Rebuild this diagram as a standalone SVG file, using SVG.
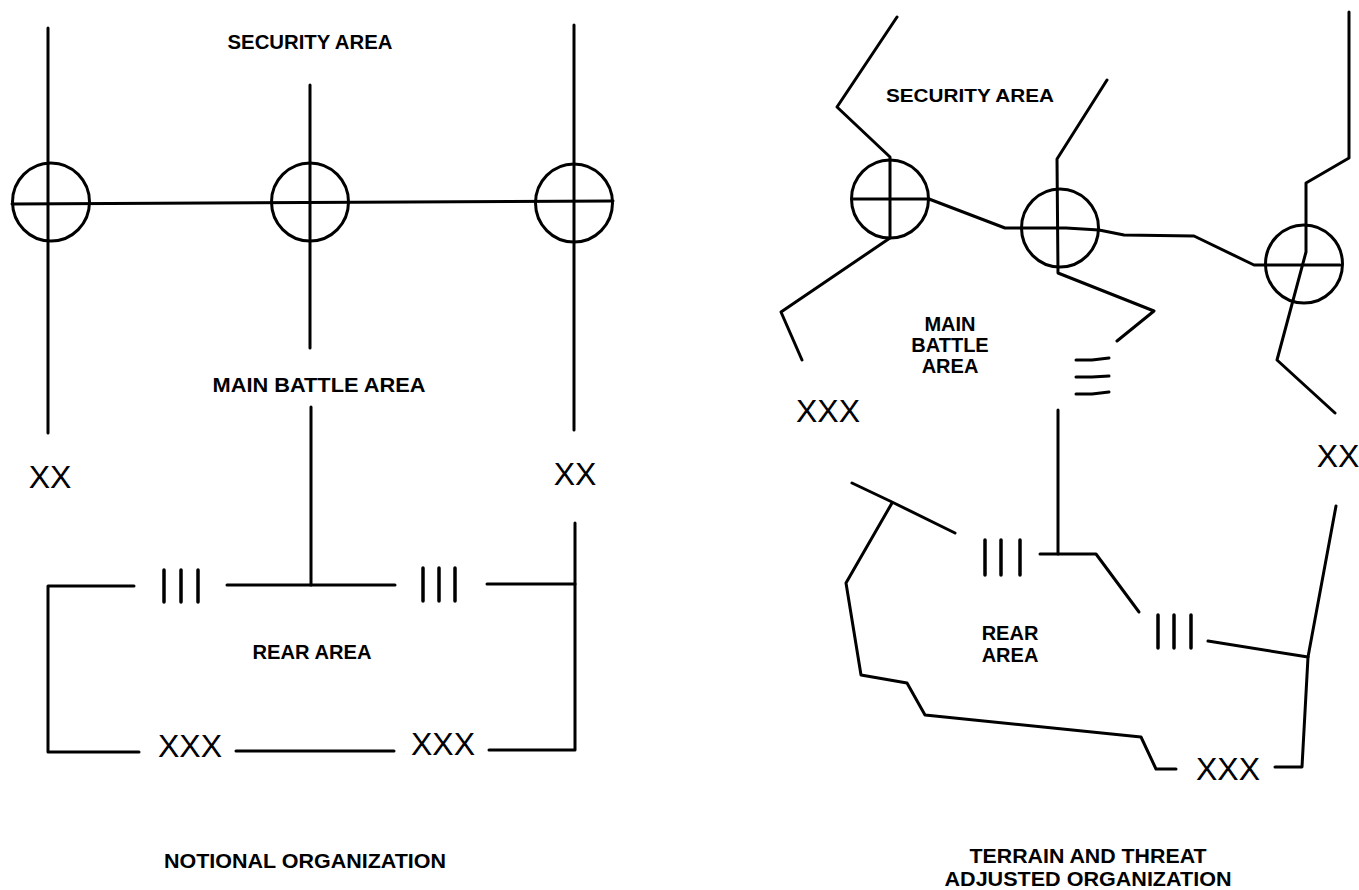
<svg xmlns="http://www.w3.org/2000/svg" width="1359" height="890" viewBox="0 0 1359 890">
<style>
.ln{fill:none;stroke:#000;stroke-width:3;stroke-linecap:round;stroke-linejoin:round}
.cp{fill:none;stroke:#000;stroke-width:3}
.bar{stroke:#000;stroke-width:3.5;stroke-linecap:round}
.lbl{font-family:"Liberation Sans",Arial,sans-serif;font-weight:bold;text-anchor:middle;fill:#000}
.sym{font-family:"Liberation Sans",Arial,sans-serif;font-weight:normal;text-anchor:middle;fill:#000;font-size:32px}
</style>
<rect width="1359" height="890" fill="#fff"/>

<!-- LEFT: NOTIONAL ORGANIZATION -->
<g id="connectors-left">
  <path class="ln" d="M48,28 V433"/>
  <path class="ln" d="M310,85 V348"/>
  <path class="ln" d="M574,25 V430"/>
  <path class="ln" d="M12,204 L613,201"/>
  <path class="ln" d="M311,407 V585"/>
  <path class="ln" d="M134,586 H48 V752 H139"/>
  <path class="ln" d="M227,585 H395"/>
  <path class="ln" d="M487,584 H575 V750 H489"/>
  <path class="ln" d="M236,751 H394"/>
  <path class="ln" d="M575,523 V584"/>
</g>
<g id="cp-left-1"><ellipse class="cp" cx="51" cy="202" rx="38.5" ry="39"/></g>
<g id="cp-left-2"><ellipse class="cp" cx="310" cy="202" rx="38.5" ry="39"/></g>
<g id="cp-left-3"><ellipse class="cp" cx="574" cy="203" rx="38.5" ry="39"/></g>
<g id="lbl-security-left"><text class="lbl" x="310" y="49" font-size="20" textLength="165" lengthAdjust="spacingAndGlyphs">SECURITY AREA</text></g>
<g id="lbl-mba-left"><text class="lbl" x="319" y="392" font-size="21" textLength="213" lengthAdjust="spacingAndGlyphs">MAIN BATTLE AREA</text></g>
<g id="lbl-rear-left"><text class="lbl" x="312" y="659" font-size="20" textLength="119" lengthAdjust="spacingAndGlyphs">REAR AREA</text></g>
<g id="title-left"><text class="lbl" x="305" y="868" font-size="21" textLength="282" lengthAdjust="spacingAndGlyphs">NOTIONAL ORGANIZATION</text></g>
<g id="div-left-1"><text class="sym" x="50" y="488">XX</text></g>
<g id="div-left-2"><text class="sym" x="575" y="485">XX</text></g>
<g id="bde-left-1"><line class="bar" x1="164" y1="570" x2="164" y2="602"/><line class="bar" x1="181" y1="570" x2="181" y2="602"/><line class="bar" x1="198" y1="570" x2="198" y2="602"/></g>
<g id="bde-left-2"><line class="bar" x1="423" y1="568" x2="423" y2="601"/><line class="bar" x1="439" y1="568" x2="439" y2="601"/><line class="bar" x1="455" y1="568" x2="455" y2="601"/></g>
<g id="corps-left-1"><text class="sym" x="190" y="757">XXX</text></g>
<g id="corps-left-2"><text class="sym" x="443" y="755">XXX</text></g>

<!-- RIGHT: TERRAIN AND THREAT ADJUSTED ORGANIZATION -->
<g id="connectors-right">
  <path class="ln" d="M897,17 L837,107 L890,157 V238 L781,312 L802,360"/>
  <path class="ln" d="M852,199 H929 L1005,228 H1066 L1099,230 L1124,235 L1194,236 L1254,265 H1340"/>
  <path class="ln" d="M1107,80 L1057,159 L1058,273 L1154,311 L1117,341"/>
  <path class="ln" d="M1349,12 V158 L1306,183 V252 L1277,360 L1335,413"/>
  <path class="ln" d="M1058,410 V554"/>
  <path class="ln" d="M852,483 L892,502 L955,533"/>
  <path class="ln" d="M892,503 L846,583 L861,675 L907,683 L925,715 L1141,737 L1156,769 H1176"/>
  <path class="ln" d="M1040,554 H1096 L1139,612"/>
  <path class="ln" d="M1208,641 L1308,657"/>
  <path class="ln" d="M1336,506 L1308,657 L1302,767 H1275"/>
  <path class="ln" d="M1076,360 H1092 L1109,358" stroke-width="3"/>
  <path class="ln" d="M1076,377 H1092 L1109,376" stroke-width="4.5"/>
  <path class="ln" d="M1076,394 H1092 L1109,392" stroke-width="3"/>
</g>
<g id="cp-right-1"><ellipse class="cp" cx="890" cy="199" rx="38.5" ry="39"/></g>
<g id="cp-right-2"><ellipse class="cp" cx="1060" cy="228" rx="38.5" ry="39"/></g>
<g id="cp-right-3"><ellipse class="cp" cx="1304" cy="264" rx="38.5" ry="39"/></g>
<g id="lbl-security-right"><text class="lbl" x="970" y="102" font-size="19" textLength="168" lengthAdjust="spacingAndGlyphs">SECURITY AREA</text></g>
<g id="lbl-mba-right"><text class="lbl" x="950" y="331" font-size="20">MAIN</text><text class="lbl" x="950" y="352" font-size="20">BATTLE</text><text class="lbl" x="950" y="373" font-size="20">AREA</text></g>
<g id="lbl-rear-right"><text class="lbl" x="1010" y="640" font-size="20">REAR</text><text class="lbl" x="1010" y="662" font-size="20">AREA</text></g>
<g id="title-right"><text class="lbl" x="1088" y="863" font-size="20" textLength="237" lengthAdjust="spacingAndGlyphs">TERRAIN AND THREAT</text><text class="lbl" x="1088" y="886" font-size="20" textLength="287" lengthAdjust="spacingAndGlyphs">ADJUSTED ORGANIZATION</text></g>
<g id="corps-right-1"><text class="sym" x="828" y="422">XXX</text></g>
<g id="div-right-1"><text class="sym" x="1338" y="467">XX</text></g>
<g id="bde-right-1"><line class="bar" x1="985" y1="540" x2="985" y2="575"/><line class="bar" x1="1001" y1="540" x2="1001" y2="575"/><line class="bar" x1="1020" y1="540" x2="1020" y2="575"/></g>
<g id="bde-right-2"><line class="bar" x1="1158" y1="615" x2="1158" y2="648"/><line class="bar" x1="1174" y1="615" x2="1174" y2="648"/><line class="bar" x1="1191" y1="615" x2="1191" y2="648"/></g>
<g id="corps-right-2"><text class="sym" x="1228" y="780">XXX</text></g>
</svg>
